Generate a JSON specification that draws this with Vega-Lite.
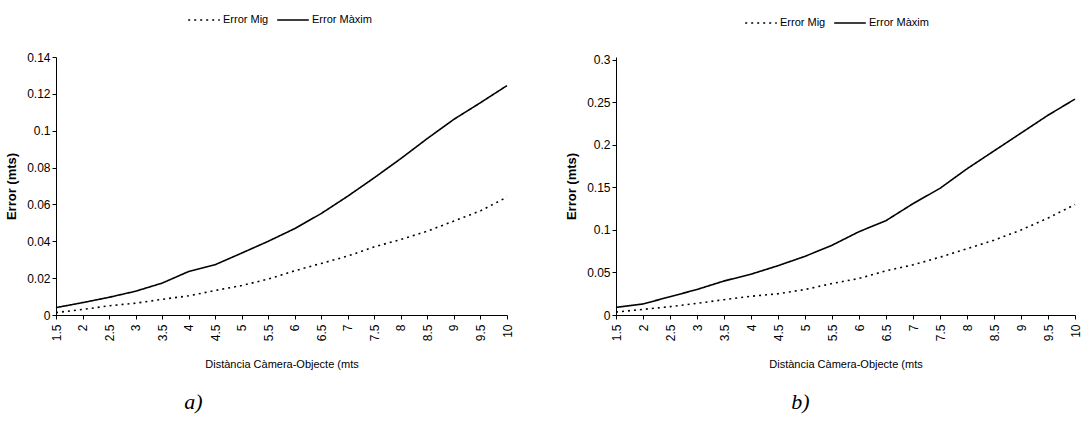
{
  "$schema": "https://vega.github.io/schema/vega-lite/v6.json",
  "background": "white",
  "padding": {"left": 5, "right": 5, "top": 3, "bottom": 5},
  "config": {
    "view": {"stroke": null},
    "font": "Liberation Sans",
    "axis": {"domainColor": "black", "tickColor": "black", "labelColor": "black", "titleColor": "black", "grid": false, "labelFont": "Liberation Sans", "titleFont": "Liberation Sans", "labelFontSize": 12, "tickSize": 4},
    "legend": {"labelFont": "Liberation Sans", "labelFontSize": 11, "labelColor": "black"},
    "title": {"font": "Liberation Serif", "fontStyle": "italic", "fontWeight": "normal", "fontSize": 22, "color": "black"}
  },
  "datasets": {
    "a": [
      {"d": 1.5, "serie": "Error Mig", "error": 0.0013}, {"d": 2, "serie": "Error Mig", "error": 0.003}, {"d": 2.5, "serie": "Error Mig", "error": 0.005}, {"d": 3, "serie": "Error Mig", "error": 0.0064}, {"d": 3.5, "serie": "Error Mig", "error": 0.0085}, {"d": 4, "serie": "Error Mig", "error": 0.0104}, {"d": 4.5, "serie": "Error Mig", "error": 0.0133}, {"d": 5, "serie": "Error Mig", "error": 0.016}, {"d": 5.5, "serie": "Error Mig", "error": 0.0195}, {"d": 6, "serie": "Error Mig", "error": 0.024}, {"d": 6.5, "serie": "Error Mig", "error": 0.028}, {"d": 7, "serie": "Error Mig", "error": 0.032}, {"d": 7.5, "serie": "Error Mig", "error": 0.037}, {"d": 8, "serie": "Error Mig", "error": 0.041}, {"d": 8.5, "serie": "Error Mig", "error": 0.0455}, {"d": 9, "serie": "Error Mig", "error": 0.051}, {"d": 9.5, "serie": "Error Mig", "error": 0.0565}, {"d": 10, "serie": "Error Mig", "error": 0.064},
      {"d": 1.5, "serie": "Error Màxim", "error": 0.004}, {"d": 2, "serie": "Error Màxim", "error": 0.0067}, {"d": 2.5, "serie": "Error Màxim", "error": 0.0096}, {"d": 3, "serie": "Error Màxim", "error": 0.0129}, {"d": 3.5, "serie": "Error Màxim", "error": 0.0173}, {"d": 4, "serie": "Error Màxim", "error": 0.0236}, {"d": 4.5, "serie": "Error Màxim", "error": 0.0273}, {"d": 5, "serie": "Error Màxim", "error": 0.0336}, {"d": 5.5, "serie": "Error Màxim", "error": 0.040}, {"d": 6, "serie": "Error Màxim", "error": 0.0469}, {"d": 6.5, "serie": "Error Màxim", "error": 0.0551}, {"d": 7, "serie": "Error Màxim", "error": 0.0645}, {"d": 7.5, "serie": "Error Màxim", "error": 0.0745}, {"d": 8, "serie": "Error Màxim", "error": 0.0849}, {"d": 8.5, "serie": "Error Màxim", "error": 0.0958}, {"d": 9, "serie": "Error Màxim", "error": 0.1062}, {"d": 9.5, "serie": "Error Màxim", "error": 0.1152}, {"d": 10, "serie": "Error Màxim", "error": 0.1245}
    ],
    "b": [
      {"d": 1.5, "serie": "Error Mig", "error": 0.0035}, {"d": 2, "serie": "Error Mig", "error": 0.0066}, {"d": 2.5, "serie": "Error Mig", "error": 0.0098}, {"d": 3, "serie": "Error Mig", "error": 0.0137}, {"d": 3.5, "serie": "Error Mig", "error": 0.018}, {"d": 4, "serie": "Error Mig", "error": 0.022}, {"d": 4.5, "serie": "Error Mig", "error": 0.025}, {"d": 5, "serie": "Error Mig", "error": 0.030}, {"d": 5.5, "serie": "Error Mig", "error": 0.037}, {"d": 6, "serie": "Error Mig", "error": 0.043}, {"d": 6.5, "serie": "Error Mig", "error": 0.052}, {"d": 7, "serie": "Error Mig", "error": 0.059}, {"d": 7.5, "serie": "Error Mig", "error": 0.068}, {"d": 8, "serie": "Error Mig", "error": 0.078}, {"d": 8.5, "serie": "Error Mig", "error": 0.088}, {"d": 9, "serie": "Error Mig", "error": 0.1}, {"d": 9.5, "serie": "Error Mig", "error": 0.114}, {"d": 10, "serie": "Error Mig", "error": 0.13},
      {"d": 1.5, "serie": "Error Màxim", "error": 0.009}, {"d": 2, "serie": "Error Màxim", "error": 0.013}, {"d": 2.5, "serie": "Error Màxim", "error": 0.0215}, {"d": 3, "serie": "Error Màxim", "error": 0.030}, {"d": 3.5, "serie": "Error Màxim", "error": 0.040}, {"d": 4, "serie": "Error Màxim", "error": 0.048}, {"d": 4.5, "serie": "Error Màxim", "error": 0.058}, {"d": 5, "serie": "Error Màxim", "error": 0.069}, {"d": 5.5, "serie": "Error Màxim", "error": 0.082}, {"d": 6, "serie": "Error Màxim", "error": 0.098}, {"d": 6.5, "serie": "Error Màxim", "error": 0.111}, {"d": 7, "serie": "Error Màxim", "error": 0.131}, {"d": 7.5, "serie": "Error Màxim", "error": 0.149}, {"d": 8, "serie": "Error Màxim", "error": 0.172}, {"d": 8.5, "serie": "Error Màxim", "error": 0.193}, {"d": 9, "serie": "Error Màxim", "error": 0.214}, {"d": 9.5, "serie": "Error Màxim", "error": 0.235}, {"d": 10, "serie": "Error Màxim", "error": 0.254}
    ]
  },
  "resolve": {"scale": {"y": "independent", "strokeDash": "independent"}, "legend": {"strokeDash": "independent"}},
  "spacing": 52,
  "hconcat": [
    {
      "data": {"name": "a"},
      "width": 451,
      "height": 258,
      "title": {"text": "a)", "orient": "bottom", "offset": 22, "anchor": "middle", "dx": -88},
      "mark": {"type": "line", "color": "black", "strokeWidth": 1.6},
      "encoding": {
        "x": {"field": "d", "type": "quantitative", "scale": {"domain": [1.5, 10], "nice": false, "zero": false}, "axis": {"values": [1.5, 2, 2.5, 3, 3.5, 4, 4.5, 5, 5.5, 6, 6.5, 7, 7.5, 8, 8.5, 9, 9.5, 10], "format": "~g", "labelAngle": -90, "labelAlign": "right", "labelBaseline": "middle", "title": "Distància Càmera-Objecte (mts", "titleFontWeight": "normal", "titleFontSize": 11, "titlePadding": 18, "labelPadding": 5}},
        "y": {"field": "error", "type": "quantitative", "scale": {"domain": [0, 0.14], "nice": false}, "axis": {"values": [0, 0.02, 0.04, 0.06, 0.08, 0.1, 0.12, 0.14], "format": "~g", "title": "Error (mts)", "titleFontWeight": "bold", "titleFontSize": 13, "titlePadding": 8}},
        "strokeDash": {"field": "serie", "type": "nominal", "scale": {"domain": ["Error Mig", "Error Màxim"], "range": [[2, 4], [1, 0]]}, "legend": {"orient": "none", "legendX": 131, "legendY": -54, "direction": "horizontal", "title": null, "symbolType": "stroke", "symbolSize": 1000, "symbolStrokeWidth": 1.6, "symbolStrokeColor": "black", "columnPadding": 4, "labelOffset": 2}}
      }
    },
    {
      "data": {"name": "b"},
      "width": 459,
      "height": 258,
      "title": {"text": "b)", "orient": "bottom", "offset": 22, "anchor": "middle", "dx": -45},
      "mark": {"type": "line", "color": "black", "strokeWidth": 1.6},
      "encoding": {
        "x": {"field": "d", "type": "quantitative", "scale": {"domain": [1.5, 10], "nice": false, "zero": false}, "axis": {"values": [1.5, 2, 2.5, 3, 3.5, 4, 4.5, 5, 5.5, 6, 6.5, 7, 7.5, 8, 8.5, 9, 9.5, 10], "format": "~g", "labelAngle": -90, "labelAlign": "right", "labelBaseline": "middle", "title": "Distància Càmera-Objecte (mts", "titleFontWeight": "normal", "titleFontSize": 11, "titlePadding": 18, "labelPadding": 5}},
        "y": {"field": "error", "type": "quantitative", "scale": {"domain": [0, 0.3035], "nice": false}, "axis": {"values": [0, 0.05, 0.1, 0.15, 0.2, 0.25, 0.3], "format": "~g", "title": "Error (mts)", "titleFontWeight": "bold", "titleFontSize": 13, "titlePadding": 8}},
        "strokeDash": {"field": "serie", "type": "nominal", "scale": {"domain": ["Error Mig", "Error Màxim"], "range": [[2, 4], [1, 0]]}, "legend": {"orient": "none", "legendX": 128, "legendY": -51, "direction": "horizontal", "title": null, "symbolType": "stroke", "symbolSize": 1000, "symbolStrokeWidth": 1.6, "symbolStrokeColor": "black", "columnPadding": 4, "labelOffset": 2}}
      }
    }
  ]
}
